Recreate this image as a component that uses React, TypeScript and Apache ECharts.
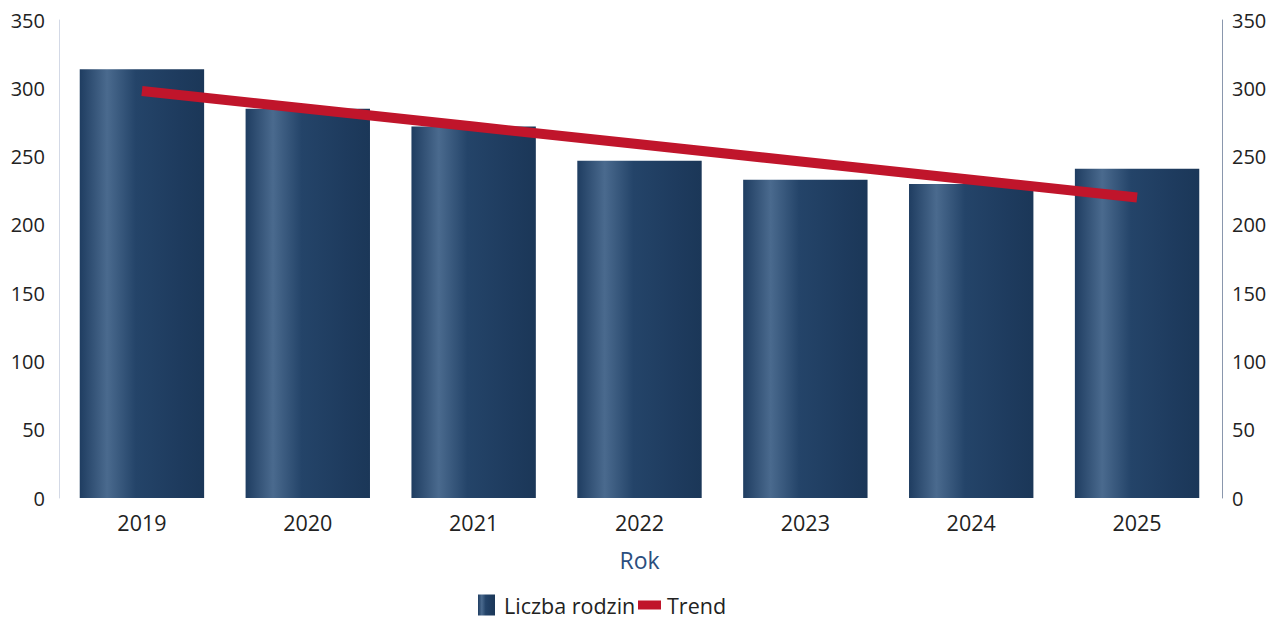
import React, { useEffect, useRef } from "react";
import * as echarts from "echarts";

const years = ["2019", "2020", "2021", "2022", "2023", "2024", "2025"];
const familyCounts = [314, 285, 272, 247, 233, 230, 241];
const trendValues = [298, 285, 272, 259, 246, 233, 220];
const yTicks = { min: 0, max: 350, interval: 50 };

const FONT = "'Open Sans', 'Noto Sans', sans-serif";

export default function App() {
  const ref = useRef<HTMLDivElement>(null);
  useEffect(() => {
    document.body.style.margin = "0";
    if (!ref.current) return;
    const chart = echarts.init(ref.current, null, { renderer: "svg" });
    const barGradient = new echarts.graphic.LinearGradient(0, 0, 1, 0, [
      { offset: 0, color: "#1f3d61" },
      { offset: 0.22, color: "#4a6a8e" },
      { offset: 0.45, color: "#244469" },
      { offset: 0.8, color: "#1e3b5e" },
      { offset: 1, color: "#1b3758" },
    ]);
    const axisLabel = { color: "#222", fontSize: 20, fontFamily: FONT };
    const legendText = { color: "#222", fontSize: 21.5, fontFamily: FONT, padding: [0, 0, 0, 4] };
    chart.setOption({
      animation: false,
      grid: { left: 59, right: 57, top: 20, bottom: 121 },
      legend: [
        {
          data: [{ name: "Liczba rodzin", icon: "rect" }],
          left: 478,
          top: 594,
          padding: 0,
          itemWidth: 17,
          itemHeight: 21,
          textStyle: legendText,
        },
        {
          data: [{ name: "Trend", icon: "rect" }],
          left: 638,
          top: 594,
          padding: 0,
          itemWidth: 23,
          itemHeight: 9,
          textStyle: { ...legendText, padding: [0, 0, 0, 1] },
        },
      ],
      xAxis: {
        type: "category",
        data: years,
        axisLine: { show: false },
        axisTick: { show: false },
        axisLabel: { ...axisLabel, fontSize: 21.5, margin: 13 },
        name: "Rok",
        nameLocation: "middle",
        nameGap: 50,
        nameTextStyle: { color: "#2b4e7e", fontSize: 23, fontFamily: FONT },
      },
      yAxis: [
        {
          type: "value",
          ...yTicks,
          position: "left",
          axisLine: { show: true, lineStyle: { color: "#d3d9e6", width: 1 } },
          axisTick: { show: false },
          splitLine: { show: false },
          axisLabel: { ...axisLabel, margin: 14 },
        },
        {
          type: "value",
          ...yTicks,
          position: "right",
          offset: 2,
          axisLine: { show: true, lineStyle: { color: "#8a97ad", width: 1 } },
          axisTick: { show: false },
          splitLine: { show: false },
          axisLabel: { ...axisLabel, margin: 10 },
        },
      ],
      series: [
        {
          name: "Liczba rodzin",
          type: "bar",
          data: familyCounts,
          barCategoryGap: "25%",
          itemStyle: { color: barGradient },
        },
        {
          name: "Trend",
          type: "line",
          data: trendValues,
          symbol: "none",
          lineStyle: { color: "#c0152b", width: 10, cap: "butt" },
          itemStyle: { color: "#c0152b" },
          z: 3,
        },
      ],
    });
    return () => chart.dispose();
  }, []);
  return <div ref={ref} style={{ width: 1277, height: 619 }} />;
}
